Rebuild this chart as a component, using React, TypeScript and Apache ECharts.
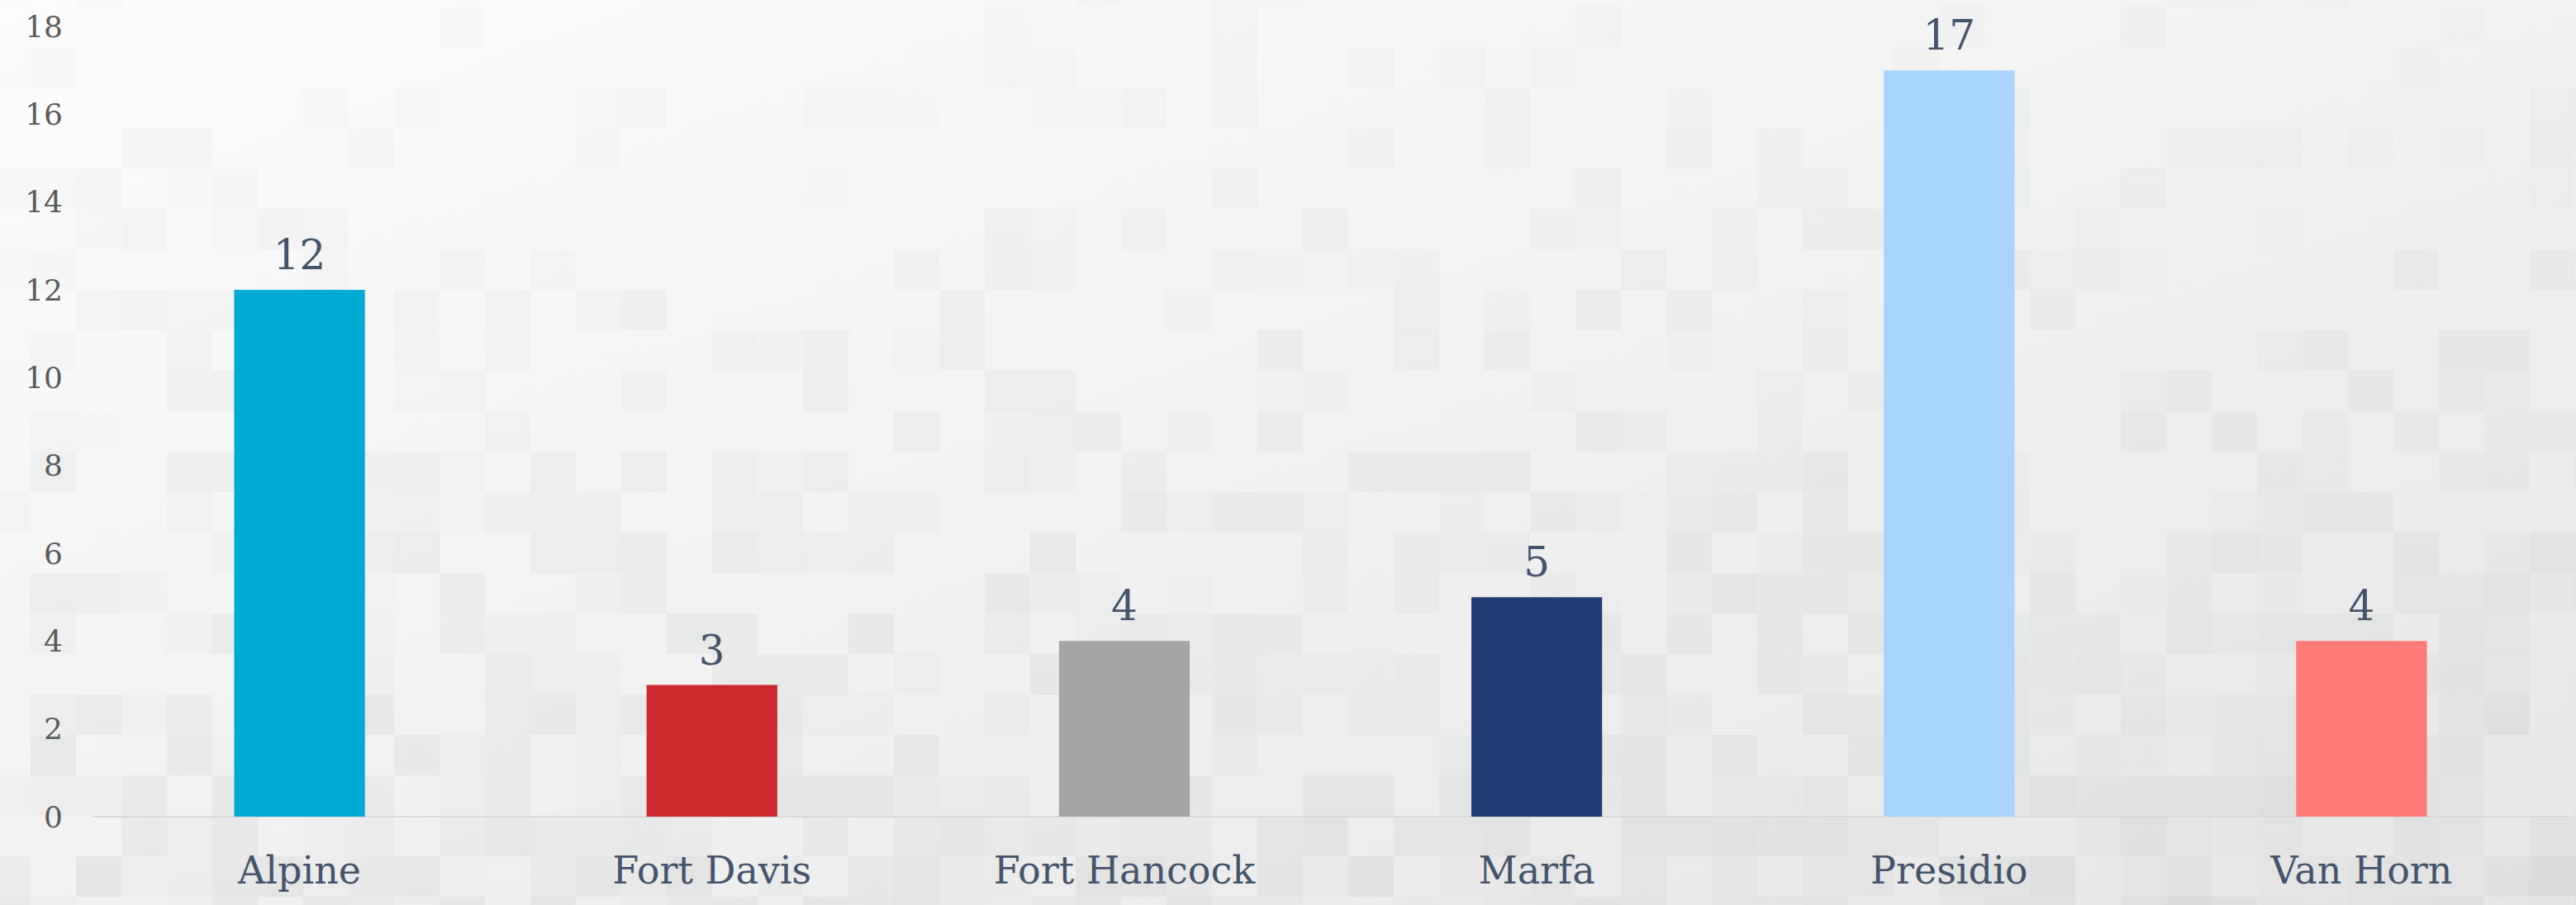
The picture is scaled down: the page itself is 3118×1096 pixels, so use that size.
import React, { useEffect, useRef } from "react";
import * as echarts from "echarts";

const categories = ["Alpine", "Fort Davis", "Fort Hancock", "Marfa", "Presidio", "Van Horn"];
const values = [12, 3, 4, 5, 17, 4];
const barColors = ["#00aad2", "#cc2a2d", "#a5a5a5", "#213d73", "#a9d4fd", "#ff7b77"];
const yTicks = { min: 0, max: 18, interval: 2 };

const W = 3118;
const H = 1096;

function hash(i: number, j: number) {
  const s = Math.sin(i * 12.9898 + j * 78.233) * 43758.5453;
  return s - Math.floor(s);
}

function buildMosaic() {
  const cw = 55;
  const ch = 49;
  const ox = -18;
  const oy = -41;
  const els: any[] = [];
  for (let r = 0; r * ch + oy < H; r++) {
    for (let c = 0; c * cw + ox < W; c++) {
      const x = ox + c * cw;
      const y = oy + r * ch;
      const h = hash(c, r);
      const fy = Math.min(1, Math.max(0, y / H));
      const fx = Math.min(1, Math.max(0, x / W));
      const density = 0.12 + 0.6 * fy + 0.1 * fx;
      if (h > density) continue;
      const a = 0.012 + 0.04 * hash(r + 7, c + 3) * (0.3 + fy);
      els.push({
        type: "rect",
        silent: true,
        z: -10,
        shape: { x, y, width: cw, height: ch },
        style: { fill: `rgba(60,70,80,${a.toFixed(3)})` },
      });
    }
  }
  return els;
}

export default function App() {
  const ref = useRef<HTMLDivElement>(null);
  useEffect(() => {
    if (!ref.current) return;
    const chart = echarts.init(ref.current, null, { renderer: "svg" });
    const font = '"Roboto Slab", "DejaVu Serif", serif';
    chart.setOption({
      animation: false,
      backgroundColor: {
        type: "linear",
        x: 0,
        y: 0,
        x2: 1,
        y2: 1,
        colorStops: [
          { offset: 0, color: "#fdfdfd" },
          { offset: 1, color: "#e6e6e6" },
        ],
      },
      graphic: buildMosaic(),
      grid: { left: 113, right: 10, top: 32, bottom: 107, containLabel: false },
      xAxis: {
        type: "category",
        data: categories,
        axisLine: { lineStyle: { color: "#d9d9d9", width: 2 } },
        axisTick: { show: false },
        axisLabel: { color: "#44546a", fontSize: 46, fontFamily: font, margin: 42 },
      },
      yAxis: {
        type: "value",
        min: yTicks.min,
        max: yTicks.max,
        interval: yTicks.interval,
        splitLine: { show: false },
        axisLine: { show: false },
        axisTick: { show: false },
        axisLabel: { color: "#595959", fontSize: 36, fontFamily: font, margin: 37 },
      },
      series: [
        {
          type: "bar",
          barWidth: "31.7%",
          data: values.map((v, i) => ({ value: v, itemStyle: { color: barColors[i] } })),
          label: {
            show: true,
            position: "top",
            distance: 17,
            color: "#44546a",
            fontSize: 50,
            fontFamily: font,
          },
        },
      ],
    });
    return () => chart.dispose();
  }, []);
  return (
    <div
      ref={ref}
      style={{ position: "fixed", left: 0, top: 0, width: W, height: H }}
    />
  );
}
